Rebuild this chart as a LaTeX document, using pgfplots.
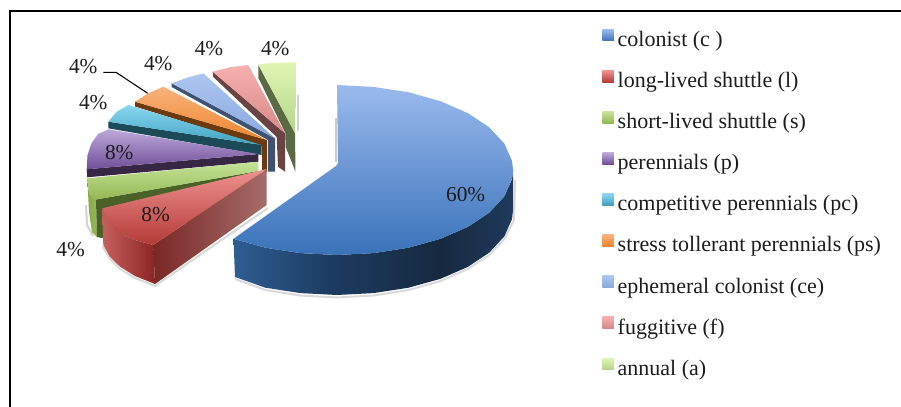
\documentclass[border=0pt]{standalone}
\usepackage{pgfplots}
\pgfplotsset{compat=1.18}
\usepackage{fontspec}
\setmainfont{Liberation Serif}
\definecolor{txt}{HTML}{1C1C1C}
\definecolor{bT}{HTML}{9ABAEE}\definecolor{bB}{HTML}{3A72B9}
\definecolor{rT}{HTML}{EE9291}\definecolor{rB}{HTML}{B53A37}
\definecolor{gT}{HTML}{C6E398}\definecolor{gB}{HTML}{93B854}
\definecolor{pT}{HTML}{BDA8DA}\definecolor{pB}{HTML}{6F4E98}
\definecolor{cT}{HTML}{8AD6F0}\definecolor{cB}{HTML}{3FA2C1}
\definecolor{oT}{HTML}{F8B27C}\definecolor{oB}{HTML}{EF852E}
\definecolor{eT}{HTML}{ADC6F0}\definecolor{eB}{HTML}{88A8DE}
\definecolor{fT}{HTML}{F6AFAF}\definecolor{fB}{HTML}{D88888}
\definecolor{aT}{HTML}{E0F6B3}\definecolor{aB}{HTML}{B3D489}
\definecolor{aS}{HTML}{5B6A45}\definecolor{fS}{HTML}{6A4343}\definecolor{eS}{HTML}{3F5270}
\definecolor{oS}{HTML}{6B3A10}\definecolor{cS}{HTML}{1C4A58}\definecolor{pS}{HTML}{372745}
\definecolor{gS}{HTML}{4A6128}\definecolor{gL}{HTML}{86A94A}\definecolor{gR}{HTML}{95B857}
\definecolor{rL}{HTML}{C6605E}\definecolor{rR}{HTML}{8A2625}
\definecolor{rcL}{HTML}{7A2826}\definecolor{rcR}{HTML}{A66C6A}
\definecolor{bs1}{HTML}{2F5D92}\definecolor{bs2}{HTML}{1D3C62}\definecolor{bs3}{HTML}{16293F}\definecolor{bs4}{HTML}{1F3A5D}
\pgfdeclarehorizontalshading{blueside}{100bp}{color(0bp)=(bs1);color(25bp)=(bs1);color(42bp)=(bs2);color(62bp)=(bs3);color(75bp)=(bs4);color(100bp)=(bs4)}
\pgfplotsset{
  lg/.style={
    legend image code/.code={\path[##1] (0pt,0.5pt) rectangle (8.6pt,9.1pt);\path (11.55pt,0pt);}}
}
\tikzset{lbl/.style={font=\fontsize{16}{17}\selectfont,text=txt,inner sep=0pt}}
\begin{document}
\begin{tikzpicture}
\fill[white,use as bounding box] (0,0) rectangle (675.75pt,305.25pt);
\begin{axis}[
  at={(0,0)},anchor=south west,
  scale only axis, width=675.75pt, height=305.25pt,
  xmin=0, xmax=901, ymin=0, ymax=407, y dir=reverse,
  hide axis, clip=true, lg,
  legend cell align=left,
  legend style={at={(axis cs:602.3,29.5)},anchor=north west,draw=none,fill=none,
    inner sep=0pt,outer sep=0pt,row sep=13.95pt,
    nodes={inner sep=0pt,text height=11.5pt,text depth=4pt,text=txt,
      font=\fontsize{16.5}{17}\selectfont}},
]
% frame
\addplot[black,line width=1.5pt,forget plot] coordinates {(9.5,407) (9.5,10.5) (901,10.5)};
% soft shadows
\addplot[gray!40,line width=1.5pt,forget plot] coordinates {(335.5,118) (335.5,162)};
\addplot[gray!35,line width=1.5pt,forget plot] coordinates {(297.5,95) (297.5,131)};
\addplot[gray!35,line width=1.5pt,forget plot] coordinates {(86,205) (87,225) (93,236)};
\addplot[gray!30,line width=1.5pt,forget plot] coordinates {(102.5,246) (110,259) (120,269) (135,278) (155,286) (268,208)};
\addplot[gray!30,line width=1.5pt,forget plot] coordinates {(235,279) (265.4,290) (300.4,295.5) (337,297.5) (373.6,295.5) (408.6,290) (440.5,281) (467.8,269) (489.4,255) (504.4,239) (514,220) (515,180)};
% side faces, back to front
\addplot[draw=none,fill=aS,forget plot] coordinates {(258.3,65) (295,133) (295.5,171.7) (285.7,147) (285.3,133) (258.5,78)};
\addplot[draw=none,fill=fS,forget plot] coordinates {(212.7,71.7) (285,133.3) (285,171.7) (278,166.7) (276.7,137) (213,76.7)};
\addplot[draw=none,fill=eS,forget plot] coordinates {(171.7,83.3) (275,138.3) (275,171.7) (268,171.7) (268,140) (171.7,87)};
\addplot[draw=none,fill=oS,forget plot] coordinates {(135,101.7) (267,140) (267,172) (262,170) (262,146) (135,106.5)};
\addplot[draw=none,fill=cS,forget plot] coordinates {(108.3,121.7) (261.7,145) (261.7,155) (108.3,128.3)};
\addplot[draw=none,fill=pS,forget plot] coordinates {(86.7,169.3) (258.3,154) (258.3,161.7) (87.3,177.3)};
\addplot[draw=none,left color=gL,right color=gR,forget plot] coordinates {(87.3,178.3) (89,193) (96,199.5) (97,237) (92,232) (89,212)};
\addplot[draw=none,fill=gS,forget plot] coordinates {(96,199.5) (258.3,171) (258.3,210) (102,238) (97,237)};
\addplot[draw=none,left color=rL,right color=rR,forget plot] coordinates {(102.3,208.3) (106,217) (116.7,230) (125,236) (135,240) (153.3,245) (155,284) (135,276) (120,266.7) (110,257) (103.3,245)};
\addplot[draw=none,left color=rcL,right color=rcR,forget plot] coordinates {(153.3,245) (266.7,169) (266.7,205) (155,284)};
\addplot[draw=none,shade,shading=blueside,forget plot] coordinates {(233.5,238.8) (265.4,247.7) (300.4,253.1) (337,255) (373.6,253.1) (408.6,247.7) (440.5,238.8) (467.8,226.9) (489.4,212.5) (504.4,196.3) (512.1,178.9) (513,170) (513,210) (512.1,218.9) (504.4,236.3) (489.4,252.5) (467.8,266.9) (440.5,278.8) (408.6,287.7) (373.6,293.1) (337,295) (300.4,293.1) (265.4,287.7) (235,277)};
% top faces, one for each category
\addplot[draw=none,top color=bT,bottom color=bB] coordinates {(337,85) (373.6,86.9) (408.6,92.3) (440.5,101.2) (467.8,113.1) (489.4,127.5) (504.4,143.7) (512.1,161.1) (513,170) (512.1,178.9) (504.4,196.3) (489.4,212.5) (467.8,226.9) (440.5,238.8) (408.6,247.7) (373.6,253.1) (337,255) (300.4,253.1) (265.4,247.7) (233.5,238.8) (336,166) (338,163)};
\addlegendentry{colonist (c )}
\addplot[draw=none,top color=rT,bottom color=rB] coordinates {(266.7,169) (153.3,245) (135,240) (125,236) (116.7,230) (106,217) (102.3,208.3)};
\addlegendentry{long-lived shuttle (l)}
\addplot[draw=none,top color=gT,bottom color=gB] coordinates {(258.3,161.7) (87.3,178.3) (89,193) (96,199.5) (258.3,171)};
\addlegendentry{short-lived shuttle (s)}
\addplot[draw=none,top color=pT,bottom color=pB] coordinates {(258.3,154) (108.3,129.3) (98,134) (91.5,143.3) (87.5,155) (86.7,169.3)};
\addlegendentry{perennials (p)}
\addplot[draw=none,top color=cT,bottom color=cB] coordinates {(261.7,145) (128.3,105) (116.7,111.7) (108.3,121.7)};
\addlegendentry{competitive perennials (pc)}
\addplot[draw=none,top color=oT,bottom color=oB] coordinates {(266.7,140) (163.3,86.7) (148.3,93.3) (135,101.7)};
\addlegendentry{stress tollerant perennials (ps)}
\addplot[draw=none,top color=eT,bottom color=eB] coordinates {(275,138.3) (203.3,73.3) (188.3,77.3) (171.7,83.3)};
\addlegendentry{ephemeral colonist (ce)}
\addplot[draw=none,top color=fT,bottom color=fB] coordinates {(285,133.3) (248.3,65) (230,67.3) (212.7,71.7)};
\addlegendentry{fuggitive (f)}
\addplot[draw=none,top color=aT,bottom color=aB] coordinates {(295,133.3) (295.7,62.3) (276,62.8) (258.3,64.3)};
\addlegendentry{annual (a)}
% leader
\addplot[black,line width=0.8pt,forget plot] coordinates {(103.3,72.3) (116,72.3) (147.7,93.3)};
% data labels
\node[lbl] at (axis cs:465.7,194.3) {60\%};
\node[lbl] at (axis cs:155.7,215) {8\%};
\node[lbl] at (axis cs:119.3,152.7) {8\%};
\node[lbl] at (axis cs:70.7,249.3) {4\%};
\node[lbl] at (axis cs:93.3,102.3) {4\%};
\node[lbl] at (axis cs:83.3,66.7) {4\%};
\node[lbl] at (axis cs:158.3,64) {4\%};
\node[lbl] at (axis cs:209,48.3) {4\%};
\node[lbl] at (axis cs:275.3,48.3) {4\%};
\end{axis}
\end{tikzpicture}
\end{document}
